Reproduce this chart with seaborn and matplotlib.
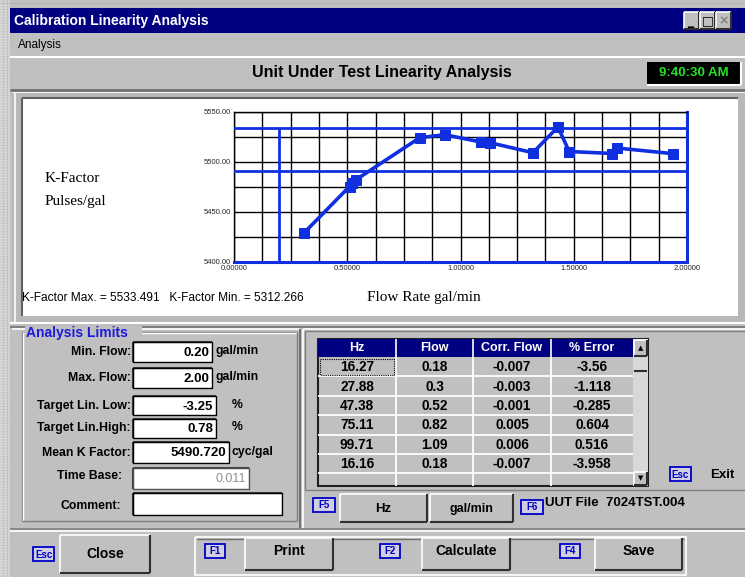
import matplotlib
matplotlib.use('Agg')
import matplotlib.pyplot as plt
import seaborn as sns
import pandas as pd
import numpy as np
from matplotlib.patches import Rectangle

# ---------------- data ----------------
flow_rate = [0.31, 0.51, 0.52, 0.54, 0.82, 0.93, 1.09, 1.13, 1.32, 1.43, 1.48, 1.67, 1.69, 1.94]
k_factor = [5429.3, 5475.5, 5479.5, 5482.5, 5524.3, 5527.3, 5520.0, 5519.3, 5509.3, 5535.0,
            5510.5, 5508.5, 5514.0, 5508.3]
x_ticks = [0.0, 0.5, 1.0, 1.5, 2.0]
y_ticks = [5400, 5450, 5500, 5550]
min_flow = 0.20
max_flow = 2.00
lin_low = -3.25
lin_high = 0.78
mean_k = 5490.720
k_max = 5533.491
k_min = 5312.266
time_base = "0.011"

tbl_cols = ["Hz", "Flow", "Corr. Flow", "% Error"]
tbl_hz = ["16.27", "27.88", "47.38", "75.11", "99.71", "16.16"]
tbl_flow = ["0.18", "0.3", "0.52", "0.82", "1.09", "0.18"]
tbl_corr = ["-0.007", "-0.003", "-0.001", "0.005", "0.006", "-0.007"]
tbl_err = ["-3.56", "-1.118", "-0.285", "0.604", "0.516", "-3.958"]

df = pd.DataFrame({"flow": flow_rate, "k": k_factor})

# ---------------- figure ----------------
sns.set_style("white")
plt.rcParams['font.family'] = ['Liberation Sans', 'DejaVu Sans']
W, H = 745, 577
GRAY = '#c0c0c0'
NAVY = '#000080'
fig = plt.figure(figsize=(W / 100, H / 100), dpi=100, facecolor=GRAY)
cv = fig.add_axes([0, 0, 1, 1])
cv.set_xlim(0, W)
cv.set_ylim(H, 0)
cv.axis('off')
cv.set_facecolor(GRAY)


def rect(x0, y0, x1, y1, fc, ec='none', lw=1, z=1, ls='-'):
    cv.add_patch(Rectangle((x0, y0), x1 - x0, y1 - y0, facecolor=fc, edgecolor=ec,
                           lw=lw, zorder=z, ls=ls))


def line(xs, ys, c, lw=1, z=2, ls='-'):
    cv.plot(xs, ys, color=c, lw=lw, zorder=z, ls=ls, solid_capstyle='butt')


def raised(x0, y0, x1, y1, z=2):
    rect(x0, y0, x1, y1, GRAY, z=z)
    line([x0, x1], [y0, y0], 'white', 1.2, z + 0.1)
    line([x0, x0], [y0, y1], 'white', 1.2, z + 0.1)
    line([x0, x1], [y1, y1], '#303030', 1.5, z + 0.1)
    line([x1, x1], [y0, y1], '#303030', 1.5, z + 0.1)


def sunken(x0, y0, x1, y1, fc='white', z=2):
    rect(x0, y0, x1, y1, fc, z=z)
    line([x0, x1], [y0, y0], '#404040', 1.5, z + 0.1)
    line([x0, x0], [y0, y1], '#404040', 1.5, z + 0.1)
    line([x0, x1], [y1, y1], '#e8e8e8', 1, z + 0.1)
    line([x1, x1], [y0, y1], '#e8e8e8', 1, z + 0.1)


def txt(x, y, s, size=9, weight='bold', color='black', ha='left', va='center', family=None, z=5):
    kw = {}
    if family:
        kw['family'] = family
    cv.text(x, y, s, fontsize=size, fontweight=weight, color=color, ha=ha, va=va, zorder=z, **kw)


def keybox(x0, y0, label, w=21, h=14):
    rect(x0, y0, x0 + w, y0 + h, '#d0d0e0', ec='#0000c8', lw=1.3, z=4)
    txt(x0 + w / 2, y0 + h / 2 + 0.5, label, size=7, color='#0000c8', ha='center', z=5)


# left dotted border
rect(0, 0, 10, H, '#d4d4d4', z=0.5)
for xx in (3, 7):
    line([xx, xx], [0, H], '#a8a8a8', 0.8, 0.6, ls=(0, (1, 1.5)))
line([0, W], [3, 3], '#a8a8a8', 0.8, 0.6, ls=(0, (1, 1.5)))

# title bar
rect(10, 8, W, 33, NAVY, z=1)
txt(14, 21, "Calibration Linearity Analysis", size=10, color='white')
for bx, g in ((684, '_'), (700, '□'), (716, '×')):
    raised(bx, 12, bx + 15, 29, z=2)
    txt(bx + 7.5, 21, g, size=9, ha='center', color='black' if g != '×' else '#808080',
        family=['DejaVu Sans'])

# menu
txt(18, 45, "Analysis", size=8.5, weight='normal')

# header panel
line([10, W], [57, 57], 'white', 1.5)
line([10, W], [90, 90], '#707070', 2)
txt(382, 73, "Unit Under Test Linearity Analysis", size=11.5, ha='center')
rect(647, 62, 741, 85, 'black', z=2)
line([647, 741], [85, 85], 'white', 1.5, 2.2)
line([741, 741], [62, 85], 'white', 1.5, 2.2)
txt(694, 73.5, "9:40:30 AM", size=9.5, color='#22e622', ha='center', weight='bold')

# chart panel
rect(12, 92, W, 322, '#b8b8b8', z=1)
line([12, W], [92, 92], '#f0f0f0', 1.5, 1.1)
line([15, 15], [92, 322], '#f0f0f0', 1.5, 1.1)
rect(22, 98, 738, 316, 'white', z=1.2)
line([22, 738], [98, 98], '#606060', 1.5, 1.3)
line([22, 22], [98, 316], '#606060', 1.5, 1.3)
line([10, W], [323, 323], 'white', 1.5, 1.3)
line([10, W], [327, 327], '#808080', 1.5, 1.3)

txt(45, 178, "K-Factor", size=11, weight='normal', family=['Liberation Serif'])
txt(45, 201, "Pulses/gal", size=11, weight='normal', family=['Liberation Serif'])
txt(22, 298, f"K-Factor Max. = {k_max:.3f}   K-Factor Min. = {k_min:.3f}", size=8.6,
    weight='normal')
txt(367, 298, "Flow Rate gal/min", size=11, weight='normal', family=['Liberation Serif'])

# ---------------- chart ----------------
ax = fig.add_axes([234 / W, 1 - 262 / H, (687 - 234) / W, (262 - 112) / H])
ax.set_facecolor('white')
BLUE = '#1030e0'
ax.set_xlim(0, 2.0)
ax.set_ylim(5400, 5550)
ax.set_xticks(np.arange(0, 2.0001, 0.125), minor=True)
ax.set_yticks(np.arange(5400, 5550.1, 25), minor=True)
ax.set_xticks(x_ticks)
ax.set_yticks(y_ticks)
ax.set_xticklabels([f"{v:.5f}" for v in x_ticks])
ax.set_yticklabels([f"{v:.2f}" for v in y_ticks])
ax.grid(True, which='both', color='black', lw=1.0)
ax.tick_params(which='both', length=0, labelsize=5.5, pad=2)
for s in ax.spines.values():
    s.set_color('black')
    s.set_linewidth(1.0)
ax.spines['bottom'].set_color(BLUE)
ax.spines['bottom'].set_linewidth(2.2)
ax.spines['right'].set_color(BLUE)
ax.spines['right'].set_linewidth(2.2)

upper = mean_k * (1 + lin_high / 100)
ax.axhline(upper, color=BLUE, lw=2.0, zorder=3)
ax.axhline(mean_k, color=BLUE, lw=2.0, zorder=3)
ax.vlines([min_flow, max_flow], 5400, upper, color=BLUE, lw=2.0, zorder=3)

sns.lineplot(data=df, x="flow", y="k", ax=ax, estimator=None, sort=True, color=BLUE,
             lw=2.6, marker='s', markersize=6.5, markeredgecolor=BLUE, zorder=4)
ax.set_xlabel("")
ax.set_ylabel("")

# ---------------- lower-left panel ----------------
line([12, 300], [329, 329], 'white', 1.2)
line([300, 300], [329, 528], '#606060', 1.2)
line([22, 297], [332, 332], '#808080', 1)
line([22, 297], [333, 333], 'white', 1)
line([22, 22], [332, 521], '#808080', 1)
line([23, 23], [332, 521], 'white', 1)
line([22, 297], [521, 521], '#808080', 1)
line([297, 297], [332, 521], '#808080', 1)
rect(25, 326, 142, 340, GRAY, z=3)
txt(26, 333, "Analysis Limits", size=10, color='#1a1ae0')

fields = [
    ("Min. Flow:", f"{min_flow:.2f}", "gal/min", 342, 362, 212, 216),
    ("Max. Flow:", f"{max_flow:.2f}", "gal/min", 368, 388, 212, 216),
    ("Target Lin. Low:", f"{lin_low:.2f}", "%", 396, 415, 216, 232),
    ("Target Lin.High:", f"{lin_high:.2f}", "%", 419, 438, 216, 232),
    ("Mean K Factor:", f"{mean_k:.3f}", "cyc/gal", 442, 463, 229, 232),
]
for lab, val, unit, y0, y1, x1, ux in fields:
    sunken(133, y0, x1, y1)
    line([133, x1, x1, 133, 133], [y0, y0, y1, y1, y0], 'black', 1, 2.3)
    txt(131, (y0 + y1) / 2, lab, size=8.8, ha='right')
    txt(x1 - 3, (y0 + y1) / 2 + 1, val, size=9.5, ha='right')
    txt(ux, (y0 + y1) / 2 - 1, unit, size=8.8)
sunken(133, 468, 249, 489, fc='white')
line([133, 249, 249, 133, 133], [468, 468, 489, 489, 468], '#505050', 1, 2.3)
txt(122, 476, "Time Base:", size=8.8, ha='right')
txt(246, 479, time_base, size=9, ha='right', color='#909090', weight='normal')
sunken(133, 493, 282, 515)
line([133, 282, 282, 133, 133], [493, 493, 515, 515, 493], 'black', 1, 2.3)
txt(121, 506, "Comment:", size=8.8, ha='right')

# ---------------- right panel ----------------
line([303, W], [329, 329], 'white', 1.2)
line([303, 303], [329, 528], 'white', 1.2)
line([305, W], [331, 331], '#808080', 1)
line([305, 305], [331, 490], '#808080', 1)
line([305, W], [490, 490], '#808080', 1)

cx = [318, 396, 473, 551, 633, 648]
ty0, th, ty1 = 339, 357, 486
rect(318, ty0, 648, ty1, GRAY, ec='#202020', lw=1.5, z=2)
rect(318, ty0, 633, th, NAVY, z=2.2)
for i, c in enumerate(tbl_cols):
    txt((cx[i] + cx[i + 1]) / 2, (ty0 + th) / 2, c, size=9, color='white', ha='center')
    if i > 0:
        line([cx[i], cx[i]], [ty0, th], 'white', 1.2, 2.4)
rh = 19.4
cols = [tbl_hz, tbl_flow, tbl_corr, tbl_err]
for r in range(len(tbl_hz) + 1):
    yb = th + rh * (r + 1)
    if yb < ty1:
        line([318, 633], [yb, yb], 'white', 1.3, 2.4)
for i in range(1, 4):
    line([cx[i], cx[i]], [th, ty1], 'white', 1.3, 2.4)
for r in range(len(tbl_hz)):
    yc = th + rh * (r + 0.5)
    for i in range(4):
        txt((cx[i] + cx[i + 1]) / 2, yc + 0.5, cols[i][r], size=9.8, ha='center')
line([320, 394, 394, 320, 320], [th + 1.5, th + 1.5, th + rh - 1.5, th + rh - 1.5, th + 1.5],
     'black', 0.8, 2.6, ls=(0, (1, 1)))
# scroll bar
rect(633, ty0, 648, ty1, '#d8d8d8', z=2.3)
raised(634, 340, 647, 356, z=2.5)
txt(640.5, 348, "▲", size=5, ha='center', family=['DejaVu Sans'])
line([634, 647], [371, 371], '#303030', 1.5, 2.6)
raised(634, 472, 647, 485, z=2.5)
txt(640.5, 478.5, "▼", size=5, ha='center', family=['DejaVu Sans'])

keybox(670, 467, "Esc")
txt(710, 475, "Exit", size=9.5)

keybox(313, 498, "F5", w=22)
raised(340, 494, 427, 522)
txt(383, 509, "Hz", size=9.5, ha='center')
raised(430, 494, 513, 522)
txt(471, 509, "gal/min", size=9, ha='center')
keybox(521, 500, "F6", w=22)
txt(545, 503, "UUT File  7024TST.004", size=9.5)

# ---------------- bottom bar ----------------
line([10, W], [529, 529], '#808080', 1.2)
line([10, W], [531, 531], 'white', 1.2)
keybox(33, 547, "Esc")
raised(60, 535, 150, 573)
txt(105, 554, "Close", size=10, ha='center')
line([195, 686, 686, 195, 195], [537, 537, 575, 575, 537], '#f4f4f4', 1.5, 1.5)
line([197, 684], [539, 539], '#707070', 1, 1.6)
for kx, lab, bx0, bx1, name in ((205, "F1", 245, 333, "Print"),
                                (380, "F2", 422, 510, "Calculate"),
                                (560, "F4", 595, 682, "Save")):
    keybox(kx, 544, lab, w=20)
    raised(bx0, 538, bx1, 570)
    txt((bx0 + bx1) / 2, 551, name, size=10, ha='center')

fig.savefig("out.png", dpi=100, facecolor=GRAY)
